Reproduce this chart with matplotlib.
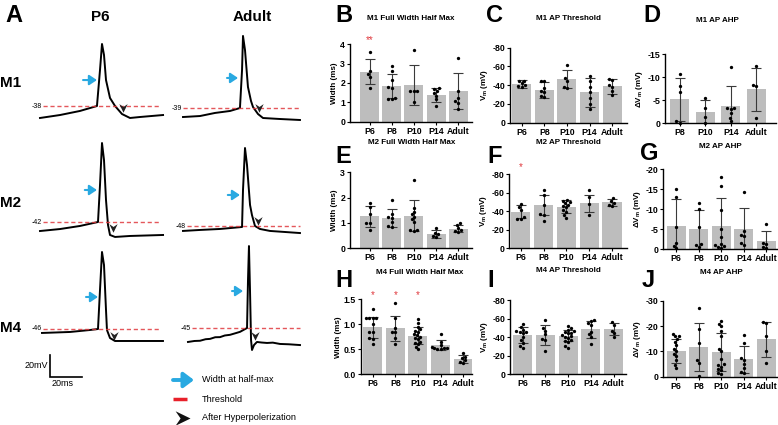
import numpy as np
import pandas as pd
import matplotlib
matplotlib.use('Agg')
import matplotlib.pyplot as plt
from matplotlib.path import Path
import seaborn as sns

plt.rcParams['font.family'] = ['Liberation Sans', 'DejaVu Sans']
plt.rcParams['axes.unicode_minus'] = False

W, H = 778, 425
BAR = '#bdbdbd'
RED = '#e0393e'
BLUE = '#29a9e1'

# ---------------- panel A: example action potentials (ms, mV) ----------------
p6_m1_t = [0, 12.5, 25, 35.6, 37.5, 38.75, 40, 41.25, 43.75, 46.9, 51.25, 56.25, 62.5, 76.9]
p6_m1_v = [-48.9, -46.2, -42.5, -38, -5.3, 18.4, 8.4, -14.4, -30.7, -38, -45.3, -48.9, -48, -46.2]
ad_m1_t = [0, 10.6, 20, 29.4, 35.6, 36.9, 37.5, 38.75, 40.6, 42.5, 43.75, 46.9, 50, 60.6, 73.1]
ad_m1_v = [-47.2, -46.3, -43.5, -41.7, -39, -4.5, 26.5, 13.7, -19.9, -32.6, -38.1, -44.5, -48.1, -49, -49.9]
p6_m2_t = [0, 12.5, 25, 36.25, 37.5, 38.75, 40, 41.25, 42.5, 43.75, 46.9, 56.25, 76.9]
p6_m2_v = [-50.2, -48.4, -45.6, -42, -8.4, 29.8, 14.4, -22, -44.7, -53.8, -55.6, -54.7, -53.8]
ad_m2_t = [0, 10.6, 23.1, 36.9, 37.5, 38.75, 40, 41.9, 43.1, 45, 48.1, 54.4, 73.1]
ad_m2_v = [-52.5, -51.6, -50.7, -48.9, -15.3, 22.9, 7.5, -28.9, -38, -48, -50.7, -52.5, -54.4]
p6_m4_t = [0, 17.5, 30, 35, 36.25, 37.5, 38.75, 40, 40.6, 42.5, 45.6, 55, 75.6]
p6_m4_v = [-49.6, -48.7, -46.9, -46, -10.5, 24, 12.2, -28.7, -46.9, -54.2, -56.9, -56.9, -56.9]
ad_m4_t = [0, 4, 7.5, 11, 13.75, 17, 20, 23, 26.25, 30, 32.5, 36.9, 37.5, 38.1, 38.75, 39.4, 40,
           41.25, 43.1, 46, 49.4, 53, 57.5, 63, 70]
ad_m4_v = [-57.7, -56.8, -56.6, -55.2, -54.9, -53.4, -53.3, -51.8, -51.2, -49.6, -48.5, -45, -1.4,
           29.5, -10.5, -55.9, -65, -60.5, -57.7, -58.2, -58.6, -58.3, -59.5, -59.8, -60.5]

thresholds = [-38, -39, -42, -48, -46, -45]
thr_span = [(1.9, 75), (0, 73.1), (1.9, 75), (2.5, 73.1), (0.6, 73.75), (2.5, 70)]
halfmax_arrow = [(26.9, 35.6, -14.4), (27.5, 34.4, -11.7), (28, 35.6, -12.9),
                 (28, 35.6, -19.8), (27.5, 35, -16.9), (27.5, 34.4, -11.4)]
ahp_mark = [(51.9, -38.9), (47.5, -38.1), (45.6, -46.5), (46.9, -42.5), (45, -51.5), (41.9, -51.4)]
traces = [(p6_m1_t, p6_m1_v), (ad_m1_t, ad_m1_v), (p6_m2_t, p6_m2_v),
          (ad_m2_t, ad_m2_v), (p6_m4_t, p6_m4_v), (ad_m4_t, ad_m4_v)]
scale_mv, scale_ms = 20, 20

# ---------------- bar panels ----------------
ages = ['P6', 'P8', 'P10', 'P14', 'Adult']
ages_d = ['P8', 'P10', 'P14', 'Adult']

m1_fwhm_mean = [2.59, 1.84, 1.90, 1.38, 1.58]
m1_fwhm_sd = [0.64, 0.63, 1.02, 0.36, 0.93]
m1_fwhm_pts = [[3.6, 2.6, 2.45, 2.3, 1.75],
               [2.9, 2.6, 2.15, 1.8, 1.75, 1.2, 1.15, 1.15],
               [3.7, 1.6, 1.6, 1.6, 1.0],
               [1.75, 1.7, 1.6, 1.5, 1.35, 1.15, 0.8],
               [3.3, 1.6, 1.25, 1.05, 0.95, 0.67]]

m1_thr_mean = [-41.3, -34.9, -46.3, -32.4, -39.1]
m1_thr_sd = [4.5, 8.4, 9.8, 15.5, 8.0]
m1_thr_pts = [[-45, -44, -42, -40, -39, -38],
              [-45, -44, -37, -34, -33, -28, -27],
              [-62, -48, -45, -38, -37],
              [-50, -45, -38, -33, -26, -20, -15],
              [-47, -46, -40, -38, -34, -30]]

m1_ahp_mean = [-5.2, -2.5, -3.8, -7.4]
m1_ahp_sd = [4.7, 2.6, 4.4, 4.7]
m1_ahp_pts = [[-10.7, -8.1, -6.9, -0.4, -0.1],
              [-5.6, -3.3, -1.3, -0.1],
              [-12.3, -3.4, -3.3, -3.2, -2.2, -1.1, -0.4],
              [-12.4, -8.3, -8.1, -1.1]]

m2_fwhm_mean = [1.26, 1.19, 1.29, 0.55, 0.78]
m2_fwhm_sd = [0.42, 0.35, 0.62, 0.16, 0.14]
m2_fwhm_pts = [[1.8, 1.65, 1.35, 1.0, 0.98, 0.72],
               [1.9, 1.35, 1.25, 1.2, 1.05, 0.9, 0.85],
               [2.7, 1.6, 1.45, 1.35, 1.25, 1.15, 1.05, 0.72, 0.72, 0.7],
               [0.8, 0.62, 0.55, 0.47, 0.45],
               [1.0, 0.92, 0.8, 0.72, 0.68, 0.65]]

m2_thr_mean = [-39.4, -46.6, -44.8, -48.4, -49.5]
m2_thr_sd = [7.2, 11.0, 6.7, 9.0, 3.9]
m2_thr_pts = [[-48, -44, -41, -34, -32, -32],
              [-63, -57, -47, -37, -36, -29],
              [-52, -51, -50, -49, -47, -46, -44, -41, -39, -36, -33],
              [-63, -55, -48, -36],
              [-54, -51, -49, -47, -46]]

m2_ahp_mean = [-5.8, -4.9, -5.7, -4.9, -1.9]
m2_ahp_sd = [6.7, 5.0, 7.0, 5.4, 2.5]
m2_ahp_pts = [[-15, -13, -5.5, -1.5, -0.8, -0.2],
              [-11.5, -10, -5.5, -1.2, -1.0, -0.5],
              [-18, -15.7, -9.8, -5, -3, -1.2, -1.0, -0.8, -0.5, -0.3],
              [-14.4, -4.5, -3.5, -3.2, -1.5, -1.0],
              [-6.3, -1.5, -1.2, -0.5, -0.3]]

m4_fwhm_mean = [0.94, 0.92, 0.77, 0.59, 0.30]
m4_fwhm_sd = [0.21, 0.25, 0.17, 0.10, 0.08]
m4_fwhm_pts = [[1.3, 1.12, 1.12, 1.12, 1.12, 1.0, 0.85, 0.85, 0.72, 0.7, 0.6],
               [1.42, 1.12, 0.92, 0.85, 0.85, 0.72, 0.6],
               [1.1, 1.02, 0.95, 0.9, 0.87, 0.85, 0.8, 0.78, 0.75, 0.72, 0.7, 0.65, 0.62, 0.6, 0.55, 0.5],
               [0.8, 0.65, 0.58, 0.55, 0.53, 0.52, 0.52, 0.5, 0.5],
               [0.42, 0.35, 0.32, 0.28, 0.25, 0.22]]

m4_thr_mean = [-42.3, -42.3, -41.6, -48.4, -48.7]
m4_thr_sd = [8.1, 10.6, 6.0, 9.0, 6.8]
m4_thr_pts = [[-54, -51, -48, -47, -46, -46, -44, -40, -37, -34, -30, -28],
              [-59, -50, -47, -43, -38, -37, -25],
              [-52, -50, -48, -47, -46, -45, -44, -42, -41, -40, -39, -37, -36, -35, -30, -28],
              [-58, -57, -55, -53, -46, -43, -40, -33],
              [-56, -53, -47, -44, -40]]

m4_ahp_mean = [-10.1, -11.8, -9.9, -6.8, -14.7]
m4_ahp_sd = [4.6, 9.4, 7.5, 5.2, 7.0]
m4_ahp_pts = [[-17, -16.2, -16, -14.8, -13.7, -12.5, -11, -10, -9, -8, -6.5, -4.8, -3.6],
              [-27, -18.7, -13.4, -6.6, -5.5, -0.1],
              [-22, -21, -20, -18, -16, -11, -10, -7, -5, -4.5, -4, -3, -2.6, -1.5, -1],
              [-16.4, -13.2, -7.2, -6.6, -5, -3.3, -2, -1.3],
              [-21.5, -21.3, -16, -10.3, -5.5]]


def px_rect(l, t, r, b):
    return [l / W, 1 - b / H, (r - l) / W, (b - t) / H]


fig = plt.figure(figsize=(W / 100, H / 100), dpi=100)

# ---------------- panel A ----------------
PX_MS, PX_MV = 1.6, 1.1
trace_origin = [(40, 106), (183, 108), (40, 222), (183, 226), (42, 329), (188, 328)]

ahp_path = Path([(0, -1), (-0.8, 0.65), (0, 0.1), (0.8, 0.65), (0, -1)],
                [Path.MOVETO, Path.LINETO, Path.LINETO, Path.LINETO, Path.CLOSEPOLY])
ahp_right = Path([(1, 0), (-0.65, 0.8), (-0.1, 0), (-0.65, -0.8), (1, 0)],
                 [Path.MOVETO, Path.LINETO, Path.LINETO, Path.LINETO, Path.CLOSEPOLY])

trace_axes = []
for i, ((t, v), (x0, y0)) in enumerate(zip(traces, trace_origin)):
    left, top, wpx, hpx = x0 - 5, y0 - 92, 135, 130
    ax = fig.add_axes(px_rect(left, top, left + wpx, top + hpx))
    ax.set_xlim(-5 / PX_MS, (wpx - 5) / PX_MS)
    thr = thresholds[i]
    ax.set_ylim(thr - (hpx - 92) / PX_MV, thr + 92 / PX_MV)
    ax.axis('off')
    ax.plot(t, v, color='black', lw=1.4, solid_joinstyle='round')
    t0, t1 = thr_span[i]
    ax.plot([t0, t1], [thr, thr], color=RED, lw=1.0, ls=(0, (3, 2)), alpha=0.85)
    ax.text(t0 - 0.6, thr, str(thr), ha='right', va='center', fontsize=5)
    a0, a1, av = halfmax_arrow[i]
    ax.annotate('', xy=(a1, av), xytext=(a0, av),
                arrowprops=dict(arrowstyle='-|>,head_length=0.45,head_width=0.3',
                                color=BLUE, lw=1.5, shrinkA=0, shrinkB=0))
    ax.plot(*ahp_mark[i], marker=ahp_path, ms=7.5, color='#222222', mec='none')
    trace_axes.append(ax)

# scale bar drawn in the P6 M4 axes
sb = trace_axes[4]
sb_t, sb_v = 5, -89.6
sb.plot([sb_t, sb_t, sb_t + scale_ms], [sb_v + scale_mv, sb_v, sb_v], color='black', lw=1.2,
        clip_on=False, solid_joinstyle='miter')
sb.text(sb_t - 1, sb_v + scale_mv / 2, f'{scale_mv}mV', ha='right', va='center', fontsize=6.5,
        clip_on=False)
sb.text(sb_t + 1, sb_v - 2, f'{scale_ms}ms', ha='left', va='top', fontsize=6.5, clip_on=False)

fig.text(5 / W, 1 - 22 / H, 'A', fontsize=17, fontweight='bold', va='baseline')
fig.text(100 / W, 1 - 17 / H, 'P6', fontsize=11, fontweight='bold', ha='center', va='center')
fig.text(252 / W, 1 - 17 / H, 'Adult', fontsize=11, fontweight='bold', ha='center', va='center')
for lab, y in zip(['M1', 'M2', 'M4'], [83, 203, 328]):
    fig.text(0 / W, 1 - y / H, lab, fontsize=11, fontweight='bold', ha='left', va='center')

# legend
lg = fig.add_axes(px_rect(165, 368, 300, 425))
lg.set_xlim(0, 135)
lg.set_ylim(57, 0)
lg.axis('off')
lg.annotate('', xy=(29, 12), xytext=(8, 12),
            arrowprops=dict(arrowstyle='-|>,head_length=0.6,head_width=0.45',
                            color=BLUE, lw=2.8, shrinkA=0, shrinkB=0))
lg.plot([8, 22], [31, 31], color='#e8202a', lw=2.5, solid_capstyle='butt')
lg.plot(16, 50, marker=ahp_right, ms=13, color='#111111', mec='none')
for y, s in zip([12, 31, 50], ['Width at half-max', 'Threshold', 'After Hyperpolerization']):
    lg.text(37, y, s, fontsize=6.6, va='center', ha='left', clip_on=False)


# ---------------- bar panels ----------------
def bar_panel(rect, xlim, width, labels, mean, sd, pts, ylim, yticks, ylabel, title, title_xy,
              letter, letter_xy, stars=None, star_y=1.04):
    ax = fig.add_axes(px_rect(*rect))
    x = np.arange(len(labels))
    ax.bar(x, mean, width=width, color=BAR, zorder=1)
    ax.errorbar(x, mean, yerr=sd, fmt='none', ecolor='#3a3a3a', elinewidth=0.8,
                capsize=3.5, capthick=0.8, zorder=2)
    df = pd.DataFrame({'g': np.repeat(labels, [len(p) for p in pts]),
                       'v': np.concatenate(pts)})
    sns.swarmplot(data=df, x='g', y='v', order=labels, color='black', size=2.4,
                  linewidth=0, ax=ax, zorder=3, clip_on=False, warn_thresh=1)
    ax.set_xlim(*xlim)
    ax.set_ylim(*ylim)
    ax.set_yticks(yticks)
    ax.set_yticklabels([f'{v:g}' if not isinstance(v, float) or v.is_integer() and abs(ylim[1]) > 2
                        else f'{v:.1f}' for v in yticks])
    ax.set_xticks(x)
    ax.set_xticklabels(labels)
    ax.set_xlabel('')
    ax.set_ylabel(ylabel, fontsize=5.8, fontweight='bold', labelpad=1.5)
    for s in ['top', 'right']:
        ax.spines[s].set_visible(False)
    for s in ['left', 'bottom']:
        ax.spines[s].set_linewidth(1.0)
    ax.tick_params(axis='both', length=2, width=0.8, pad=1.5, labelsize=6.3)
    for lab in ax.get_xticklabels() + ax.get_yticklabels():
        lab.set_fontweight('bold')
    if stars:
        for xi, s in stars:
            ax.text(xi, star_y, s, color=RED, fontsize=7, ha='center', va='center',
                    transform=ax.get_xaxis_transform(), clip_on=False)
    fig.text(title_xy[0] / W, 1 - title_xy[1] / H, title, fontsize=5.8, fontweight='bold',
             ha='center', va='center')
    fig.text(letter_xy[0] / W, 1 - letter_xy[1] / H, letter, fontsize=17, fontweight='bold',
             va='baseline')
    return ax


vm = 'V$_\\mathregular{m}$ (mV)'
dvm = '\u0394V$_\\mathregular{m}$ (mV)'

bar_panel((350, 44.3, 472, 121.7), (-0.88, 4.62), 0.86, ages, m1_fwhm_mean, m1_fwhm_sd, m1_fwhm_pts,
          (0, 4), [0, 1, 2, 3, 4], 'Width (ms)', 'M1 Full Width Half Max', (411, 18),
          'B', (335, 22), stars=[(0, '**')], star_y=1.05)
bar_panel((510, 47.7, 627, 122.7), (-0.52, 4.66), 0.84, ages, m1_thr_mean, m1_thr_sd, m1_thr_pts,
          (0, -80), [0, -20, -40, -60, -80], vm, 'M1 AP Threshold', (568, 18), 'C', (486, 22))
bar_panel((665, 54.3, 776, 123.3), (-0.57, 3.77), 0.74, ages_d, m1_ahp_mean, m1_ahp_sd, m1_ahp_pts,
          (0, -15), [0, -5, -10, -15], dvm, 'M1 AP AHP', (717, 20), 'D', (643, 22))

bar_panel((350, 172.3, 472, 248.3), (-0.88, 4.62), 0.86, ages, m2_fwhm_mean, m2_fwhm_sd, m2_fwhm_pts,
          (0, 3), [0, 1, 2, 3], 'Width (ms)', 'M2 Full Width Half Max', (412, 143), 'E', (335, 163))
bar_panel((509, 174, 627, 248.3), (-0.52, 4.66), 0.84, ages, m2_thr_mean, m2_thr_sd, m2_thr_pts,
          (0, -80), [0, -20, -40, -60, -80], vm, 'M2 AP Threshold', (568, 143), 'F', (487, 163),
          stars=[(0, '*')], star_y=1.09)
bar_panel((663, 169.3, 778, 249), (-0.58, 4.51), 0.84, ages, m2_ahp_mean, m2_ahp_sd, m2_ahp_pts,
          (0, -20), [0, -5, -10, -15, -20], dvm, 'M2 AP AHP', (720, 147), 'G', (640, 160))

bar_panel((361, 299.3, 472, 374.3), (-0.52, 4.39), 0.84, ages, m4_fwhm_mean, m4_fwhm_sd, m4_fwhm_pts,
          (0, 1.5), [0.0, 0.5, 1.0, 1.5], 'Width (ms)', 'M4 Full Width Half Max', (420, 272),
          'H', (335, 287), stars=[(0, '*'), (1, '*'), (2, '*')], star_y=1.06)
bar_panel((510, 300, 626, 374.3), (-0.56, 4.55), 0.84, ages, m4_thr_mean, m4_thr_sd, m4_thr_pts,
          (0, -80), [0, -20, -40, -60, -80], vm, 'M4 AP Threshold', (568, 271), 'I', (487, 287))
bar_panel((663, 300.7, 778, 376.7), (-0.58, 4.51), 0.84, ages, m4_ahp_mean, m4_ahp_sd, m4_ahp_pts,
          (0, -30), [0, -10, -20, -30], dvm, 'M4 AP AHP', (721, 272), 'J', (642, 287))

fig.savefig('out.png', dpi=100)
